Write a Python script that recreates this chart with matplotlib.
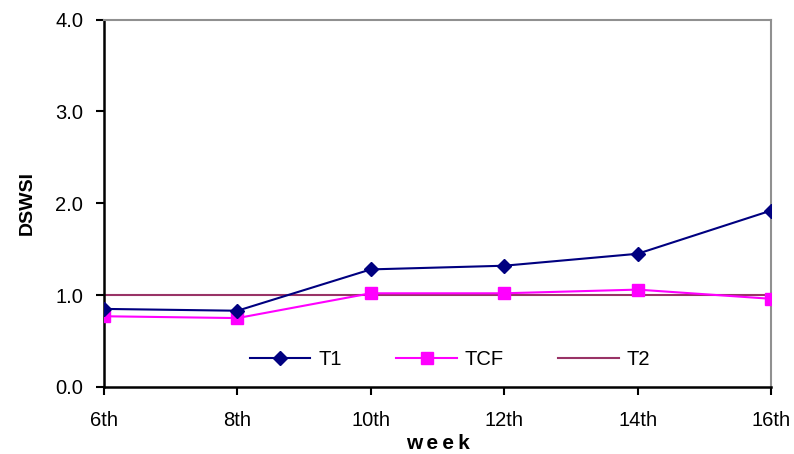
import matplotlib
matplotlib.use("Agg")
import matplotlib.pyplot as plt

weeks = ["6th", "8th", "10th", "12th", "14th", "16th"]
t1 = [0.85, 0.83, 1.28, 1.32, 1.45, 1.92]
tcf = [0.77, 0.75, 1.02, 1.02, 1.06, 0.96]
t2 = [1.0, 1.0, 1.0, 1.0, 1.0, 1.0]

plt.rcParams["font.family"] = ["Liberation Sans", "DejaVu Sans"]

fig = plt.figure(figsize=(7.94, 4.54), dpi=100)
ax = fig.add_axes([0.131, 0.1476, 0.84, 0.8094])

x = list(range(len(weeks)))
ax.plot(x, t1, color="#000080", marker="D", markersize=7.5, lw=1.5, label="T1", zorder=4)
ax.plot(x, tcf, color="#FF00FF", marker="s", markersize=9, lw=1.5, label="TCF", zorder=3)
ax.plot(x, t2, color="#993366", lw=1.5, label="T2", zorder=2)

ax.set_xlim(0, len(weeks) - 1)
ax.set_ylim(0, 4)
ax.set_xticks(x)
ax.set_xticklabels(weeks, fontsize=14.5)
ax.set_yticks([0, 1, 2, 3, 4])
ax.set_yticklabels(["0.0", "1.0", "2.0", "3.0", "4.0"], fontsize=14.5)
ax.tick_params(direction="out", length=6, width=1.5)
ax.tick_params(axis="x", pad=11)
ax.tick_params(axis="y", pad=9)

ax.set_xlabel("w\u2009e\u2009e\u2009k", fontsize=15, fontweight="bold", labelpad=3)
ax.set_ylabel("DSWSI", fontsize=14, fontweight="bold", labelpad=14)

for s in ["left", "bottom"]:
    ax.spines[s].set_color("black")
    ax.spines[s].set_linewidth(1.8)
for s in ["top", "right"]:
    ax.spines[s].set_color("#909090")
    ax.spines[s].set_linewidth(1.5)

ax.legend(loc="center", bbox_to_anchor=(0.519, 0.074), ncol=3, frameon=False,
          fontsize=14.5, handlelength=3, handletextpad=0.4, columnspacing=2.7)

fig.savefig("out.png", dpi=100)
